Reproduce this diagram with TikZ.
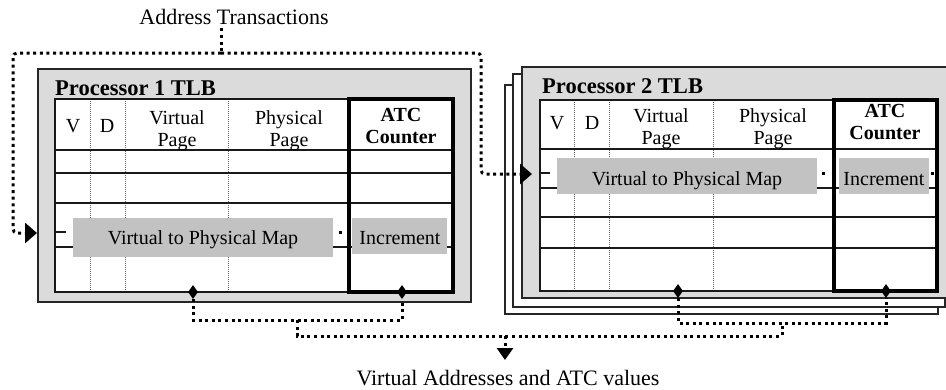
\documentclass[tikz,border=0pt]{standalone}
\usepackage{fontspec}
\setmainfont{Liberation Serif}
\usetikzlibrary{arrows.meta,shapes.geometric}
\begin{document}
\begin{tikzpicture}[x=1pt,y=-1pt,
  tlbbox/.style={draw=black!85,line width=1.7pt,fill=black!14},
  backbox/.style={draw=black!85,line width=1.4pt,fill=white},
  tline/.style={draw=black!90,line width=1.5pt},
  tbottom/.style={draw=black!90,line width=2.6pt},
  tthick/.style={draw=black,line width=3.2pt},
  coldot/.style={draw=black!60,line width=0.9pt,dash pattern=on 1pt off 1pt},
  bigdot/.style={draw=black,line width=3pt,dash pattern=on 3pt off 3.6pt},
  mapbox/.style={fill=black!24},
  lbl/.style={font=\fontsize{20}{22}\selectfont,inner sep=0pt,anchor=base},
  blbl/.style={lbl,font=\fontsize{20}{22}\selectfont\bfseries},
  ttl/.style={font=\fontsize{22.5}{24}\selectfont\bfseries,inner sep=0pt,anchor=base west},
  captxt/.style={font=\fontsize{22}{24}\selectfont,inner sep=0pt,anchor=base},
  dia/.style={diamond,fill=black,inner sep=0pt,minimum width=10pt,minimum height=14pt},
  arrowtip/.style={-{Triangle[length=12pt,width=20pt]}},
  arrowdown/.style={-{Triangle[length=12pt,width=16pt]}},
]
\useasboundingbox (0,0) rectangle (946,389);

% ---------------- Processor 1 ----------------
\draw[tlbbox] (38,69) rectangle (471,302);
\fill[white] (55,99) rectangle (453,292);
\foreach \x in {90,125,228} \draw[coldot] (\x,99) -- (\x,292);
\foreach \y in {150,173,203,247} \draw[tline] (55,\y) -- (453,\y);
\fill[mapbox] (73,218) rectangle (333,257);
\fill[mapbox] (352,218) rectangle (447,254);
\draw[tline] (55,99) rectangle (453,292);
\draw[tbottom] (55,292) -- (453,292);
\draw[tthick] (349,99) rectangle (453,292);
\draw[tline] (55,232) -- (66,232);
\fill (339,231) rectangle (341.5,233.5);

\node[ttl] (t1) at (55,95) {Processor 1 TLB};
\node[lbl] (v1) at (73,132) {V};
\node[lbl] (dd1) at (107,132) {D};
\node[lbl] (vp1a) at (177,124) {Virtual};
\node[lbl] (vp1b) at (177,146) {Page};
\node[lbl] (pp1a) at (289,124) {Physical};
\node[lbl] (pp1b) at (289,146) {Page};
\node[blbl] (atc1a) at (401,121) {ATC};
\node[blbl] (atc1b) at (401,143) {Counter};
\node[lbl] (map1) at (203,244) {Virtual to Physical Map};
\node[lbl] (inc1) at (400,244) {Increment};
\node[dia] (d1a) at (193,292) {};
\node[dia] (d1b) at (402,292) {};

% ---------------- Processor 2 ----------------
\draw[backbox] (505,85) rectangle (938,314);
\draw[backbox] (513,74) rectangle (945,307);
\draw[tlbbox] (522,67) rectangle (949,298);
\fill[white] (540,100) rectangle (937,291);
\foreach \x in {574,609,713} \draw[coldot] (\x,100) -- (\x,291);
\foreach \y in {149,188,217,248} \draw[tline] (540,\y) -- (937,\y);
\fill[mapbox] (557,158) rectangle (817,194);
\fill[mapbox] (839,158) rectangle (929,194);
\draw[tline] (540,100) rectangle (937,291);
\draw[tbottom] (540,291) -- (937,291);
\draw[tthick] (834,100) rectangle (937,291);
\draw[tline] (540,173) -- (550,173);
\fill (822,172) rectangle (824.5,174.5);
\fill (931,172) rectangle (933.5,174.5);

\node[ttl] (t2) at (542,93) {Processor 2 TLB};
\node[lbl] (v2) at (557,129) {V};
\node[lbl] (dd2) at (592,129) {D};
\node[lbl] (vp2a) at (661,122) {Virtual};
\node[lbl] (vp2b) at (661,144) {Page};
\node[lbl] (pp2a) at (773,122) {Physical};
\node[lbl] (pp2b) at (773,144) {Page};
\node[blbl] (atc2a) at (885,117) {ATC};
\node[blbl] (atc2b) at (885,139) {Counter};
\node[lbl] (map2) at (687,185) {Virtual to Physical Map};
\node[lbl] (inc2) at (884,185) {Increment};
\node[dia] (d2a) at (678,291) {};
\node[dia] (d2b) at (886,291) {};

% ---------------- Labels and connectors ----------------
\node[captxt] (at) at (234,24) {Address Transactions};
\node[captxt] (vat) at (508,385) {Virtual Addresses and ATC values};

\coordinate (top) at (221,53);
\coordinate (lc) at (13,233);
\coordinate (in1) at (37,233);
\coordinate (rc) at (481,174);
\coordinate (in2) at (532,174);
\coordinate (j1) at (297,320);
\coordinate (j2) at (782,323);
\coordinate (bus) at (505,336);
\coordinate (vout) at (505,360);

\draw[bigdot] ([yshift=-4pt]at.south -| top) -- (top);
\draw[bigdot,arrowtip,rounded corners=4pt] (top) -| (lc) -- (in1);
\draw[bigdot,arrowtip,rounded corners=4pt] (top) -| (rc) -- (in2);

\draw[bigdot] (d1a.south) |- (j1) -| (d1b.south);
\draw[bigdot] (d2a.south) |- (j2) -| (d2b.south);
\draw[bigdot] (j1) |- (bus) -| (j2);
\draw[bigdot,arrowdown] (bus) -- (vout);
\end{tikzpicture}
\end{document}
